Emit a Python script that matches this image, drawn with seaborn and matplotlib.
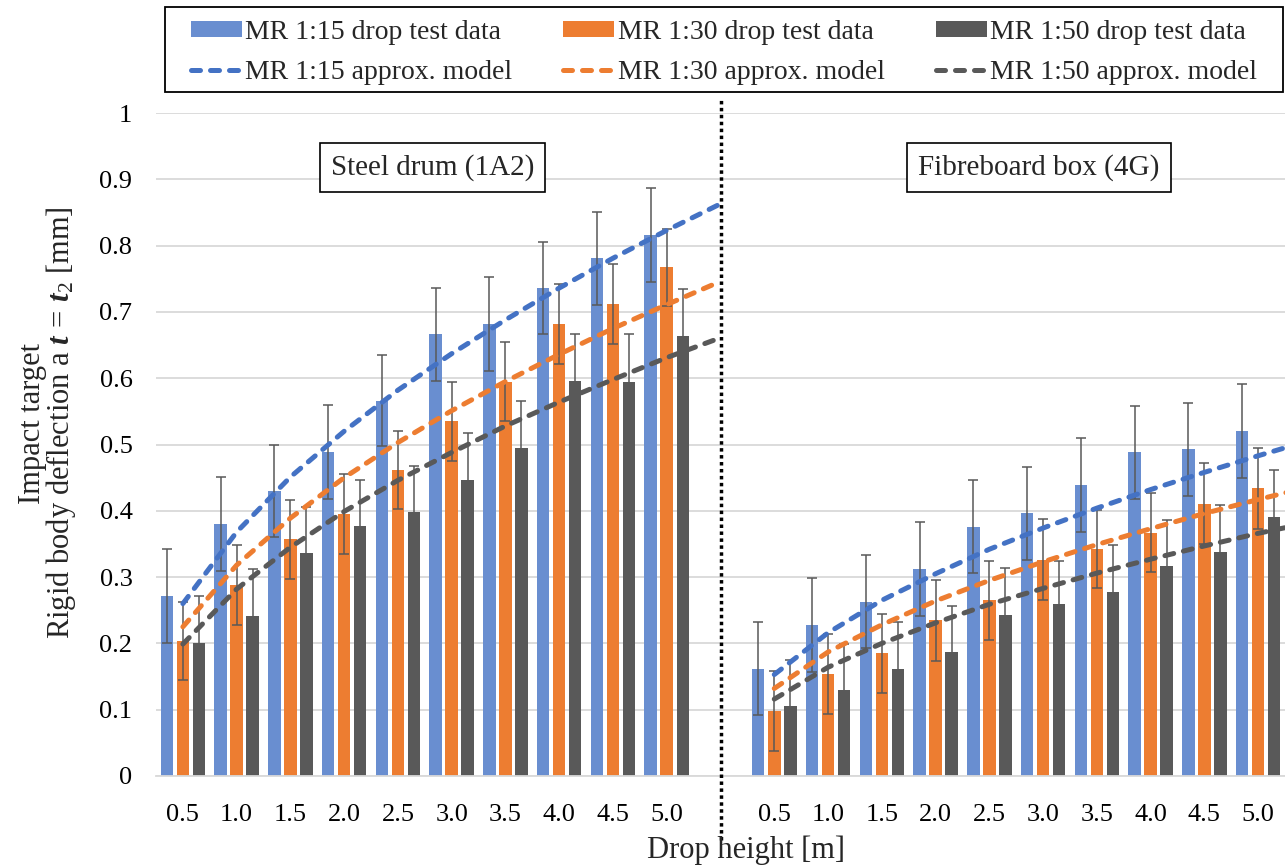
import numpy as np
import pandas as pd
import matplotlib
matplotlib.use("Agg")
import matplotlib.pyplot as plt
import seaborn as sns
from matplotlib.ticker import FixedLocator, FuncFormatter
from matplotlib.lines import Line2D
from matplotlib.patches import Patch, Rectangle

# ---------------------------------------------------------------- data
heights = ["0.5", "1.0", "1.5", "2.0", "2.5", "3.0", "3.5", "4.0", "4.5", "5.0"]
packagings = ["Steel drum (1A2)", "Fibreboard box (4G)"]
ratios = ["MR 1:15", "MR 1:30", "MR 1:50"]

# measured rigid body deflection [mm] (mean of drop tests)
drum_115 = [0.271, 0.380, 0.430, 0.489, 0.566, 0.666, 0.682, 0.736, 0.781, 0.816]
drum_130 = [0.204, 0.288, 0.357, 0.395, 0.461, 0.535, 0.595, 0.682, 0.712, 0.767]
drum_150 = [0.200, 0.241, 0.336, 0.377, 0.398, 0.446, 0.495, 0.596, 0.595, 0.663]
box_115 = [0.162, 0.228, 0.263, 0.312, 0.376, 0.396, 0.439, 0.488, 0.493, 0.520]
box_130 = [0.098, 0.154, 0.185, 0.235, 0.265, 0.326, 0.342, 0.367, 0.411, 0.434]
box_150 = [0.105, 0.129, 0.162, 0.187, 0.243, 0.259, 0.277, 0.316, 0.338, 0.391]

# scatter of the drop tests [mm]
drum_115_err = [0.071, 0.071, 0.070, 0.071, 0.069, 0.070, 0.071, 0.069, 0.070, 0.071]
drum_130_err = [0.059, 0.061, 0.060, 0.060, 0.059, 0.060, 0.060, 0.060, 0.061, 0.058]
drum_150_err = [0.071, 0.071, 0.070, 0.070, 0.070, 0.071, 0.071, 0.070, 0.071, 0.071]
box_115_err = [0.070, 0.071, 0.070, 0.071, 0.070, 0.070, 0.071, 0.070, 0.070, 0.071]
box_130_err = [0.060, 0.060, 0.060, 0.061, 0.060, 0.061, 0.059, 0.060, 0.061, 0.061]
box_150_err = [0.070, 0.070, 0.070, 0.070, 0.070, 0.066, 0.071, 0.070, 0.071, 0.070]

# approximation model evaluated at the drop heights [m]
model_h = [0.5, 1.0, 1.5, 2.0, 2.5, 3.0, 3.5, 4.0, 4.5, 5.0, 5.5]
drum_model_115 = [0.260, 0.368, 0.451, 0.520, 0.582, 0.637, 0.688, 0.736, 0.781, 0.823, 0.863]
drum_model_130 = [0.225, 0.318, 0.389, 0.450, 0.503, 0.551, 0.595, 0.636, 0.675, 0.711, 0.746]
drum_model_150 = [0.199, 0.282, 0.345, 0.399, 0.446, 0.488, 0.528, 0.564, 0.598, 0.631, 0.661]
box_model_115 = [0.153, 0.216, 0.265, 0.305, 0.342, 0.374, 0.404, 0.432, 0.458, 0.483, 0.507]
box_model_130 = [0.132, 0.187, 0.228, 0.264, 0.295, 0.323, 0.349, 0.373, 0.396, 0.417, 0.437]
box_model_150 = [0.116, 0.164, 0.200, 0.231, 0.259, 0.283, 0.306, 0.327, 0.347, 0.366, 0.383]

measured = {
    packagings[0]: [(drum_115, drum_115_err), (drum_130, drum_130_err), (drum_150, drum_150_err)],
    packagings[1]: [(box_115, box_115_err), (box_130, box_130_err), (box_150, box_150_err)],
}
models = {
    packagings[0]: [drum_model_115, drum_model_130, drum_model_150],
    packagings[1]: [box_model_115, box_model_130, box_model_150],
}

bar_colors = ["#698ED0", "#ED7D31", "#595959"]
line_colors = ["#4472C4", "#ED7D31", "#595959"]

# ---------------------------------------------------------------- table
rows = []
for pack in packagings:
    for ratio, (vals, errs) in zip(ratios, measured[pack]):
        for h, v, e in zip(heights, vals, errs):
            rows.append({"slot": f"{pack} {h}", "height": h, "ratio": ratio,
                         "deflection": v, "err": e})
df = pd.DataFrame(rows)

divider = "divider"
order = ([f"{packagings[0]} {h}" for h in heights] + [divider] +
         [f"{packagings[1]} {h}" for h in heights])
tick_labels = heights + [""] + heights

# ---------------------------------------------------------------- style
sns.set_style("white")
plt.rcParams["font.family"] = ["Liberation Serif", "DejaVu Serif"]
plt.rcParams["mathtext.fontset"] = "custom"
plt.rcParams["mathtext.rm"] = "Liberation Serif"
plt.rcParams["mathtext.it"] = "Liberation Serif:italic:bold"
plt.rcParams["mathtext.bf"] = "Liberation Serif:bold"

W, H = 1285, 868
fig = plt.figure(figsize=(W / 100, H / 100), dpi=100)
ax = fig.add_axes([156 / W, 1 - 776 / H, (1285 - 156) / W, (776 - 113) / H])

sns.barplot(data=df, x="slot", y="deflection", hue="ratio", order=order,
            hue_order=ratios, palette=bar_colors, saturation=1,
            width=0.893, gap=0.22, errorbar=None, legend=False,
            linewidth=0, ax=ax, zorder=2)

# error bars on the drawn bars
err_lookup = df.set_index(["slot", "ratio"])["err"]
for ratio, container in zip(ratios, ax.containers):
    xs, ys, es = [], [], []
    for patch in container.patches:
        xc = patch.get_x() + patch.get_width() / 2
        slot = order[int(round(xc))]
        xs.append(xc)
        ys.append(patch.get_height())
        es.append(err_lookup[(slot, ratio)])
    ax.errorbar(xs, ys, yerr=es, fmt="none", ecolor="#595959",
                elinewidth=1.1, capsize=3.3, capthick=1.1, zorder=3)

# model curves
dash = (0, (1.8, 2.0))
model_lw = 3.6
for pack in packagings:
    start = order.index(f"{pack} {heights[0]}")
    for color, curve in zip(line_colors, models[pack]):
        pos = [start + (h - model_h[0]) / 0.5 for h in model_h]
        sns.lineplot(x=pos, y=curve, ax=ax, color=color, linewidth=model_lw,
                     linestyle=dash, dash_capstyle="round", zorder=4)

# divider between the two packagings
ax.axvline(order.index(divider), ymin=-0.097, ymax=1.024, color="black",
           linewidth=2.5, linestyle=(0, (1, 1)), clip_on=False, zorder=5)

# ---------------------------------------------------------------- axes
ax.set_xlim(-0.5, len(order) - 0.5)
ax.set_ylim(0, 1)
ax.set_xticks(range(len(order)))
ax.set_xticklabels(tick_labels)
ax.set_xticks(np.arange(-0.5, len(order)), minor=True)
ax.yaxis.set_major_locator(FixedLocator(np.round(np.arange(0, 1.01, 0.1), 1)))
ax.yaxis.set_major_formatter(FuncFormatter(lambda v, _: f"{round(v, 1):g}"))
ax.tick_params(axis="x", which="major", length=0, pad=20, labelsize=19,
               colors="black")
ax.tick_params(axis="x", which="minor", length=6.5, width=1.1,
               color="#D9D9D9", direction="out")
ax.tick_params(axis="y", length=0, pad=17, labelsize=19, colors="black")
ax.yaxis.grid(True, color="#D9D9D9", linewidth=1.3)
ax.xaxis.grid(False)
ax.set_axisbelow(True)
for side in ("top", "right", "left"):
    ax.spines[side].set_visible(False)
ax.spines["bottom"].set_color("#D9D9D9")
ax.spines["bottom"].set_linewidth(1.3)
ax.set_xlabel("")
ax.set_ylabel("")

# panel titles
for pack, xc in zip(packagings, (0.245, 0.782)):
    ax.text(xc, 0.918, pack, transform=ax.transAxes, ha="center", va="center",
            fontsize=21, zorder=6,
            bbox=dict(boxstyle="square,pad=0.38", fc="white", ec="black", lw=1.2))

# axis titles
fig.text(746 / W, 1 - 858 / H, "Drop height [m]", ha="center", va="baseline",
         fontsize=22)
fig.text(48 / W, 1 - 423 / H,
         "Impact target\nRigid body deflection a $t\\,=\\,t_2$ [mm]",
         ha="center", va="center", rotation=90, fontsize=22,
         multialignment="center", linespacing=0.88)

# legend
handles, labels = [], []
for ratio, bc, lc in zip(ratios, bar_colors, line_colors):
    handles.append(Patch(facecolor=bc, edgecolor="none"))
    labels.append(f"{ratio} drop test data")
    handles.append(Line2D([], [], color=lc, linewidth=model_lw, linestyle=dash,
                          dash_capstyle="round"))
    labels.append(f"{ratio} approx. model")
fig.legend(handles, labels, ncol=3, loc="center",
           bbox_to_anchor=((165 + 1283) / 2 / W, 1 - 52.5 / H),
           frameon=False, fontsize=20, handlelength=1.83, handleheight=0.5,
           handletextpad=0.12, columnspacing=1.85, labelspacing=0.55,
           borderpad=0)
fig.add_artist(Rectangle((165 / W, 1 - 92 / H), (1283 - 165) / W, 85 / H,
                         transform=fig.transFigure, fill=False,
                         edgecolor="black", linewidth=1.3))

fig.savefig("out.png", dpi=100)
